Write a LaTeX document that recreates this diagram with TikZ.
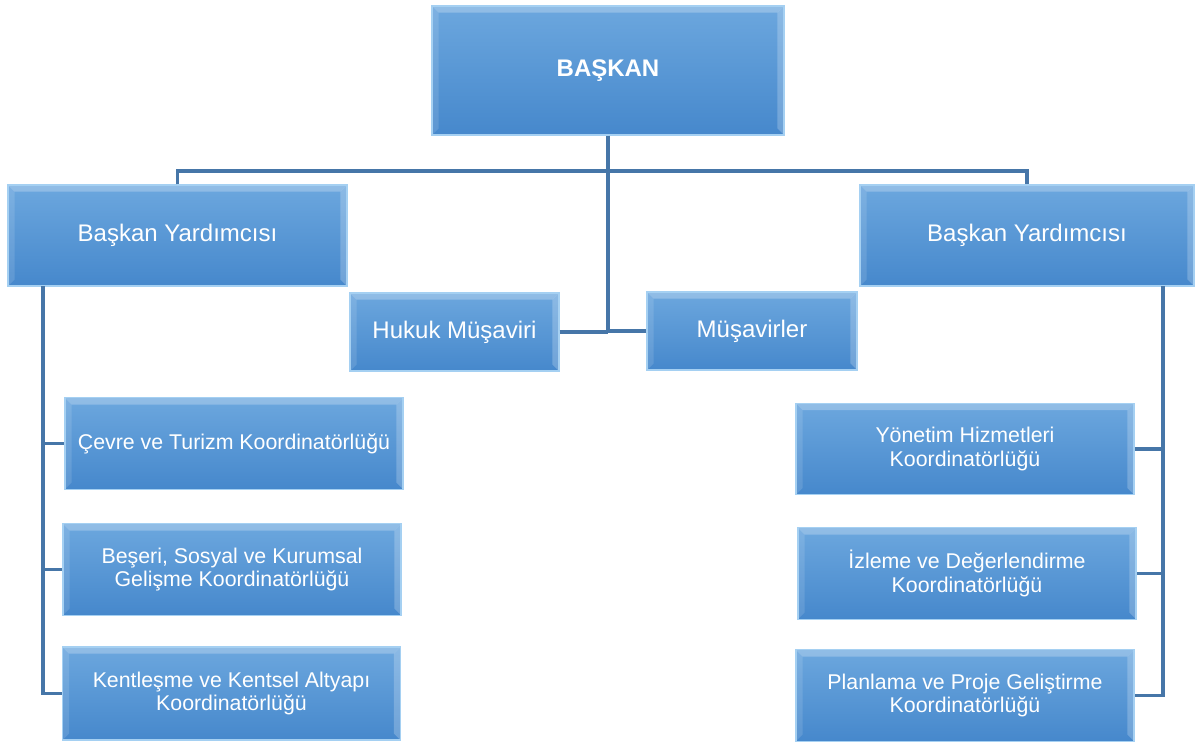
\documentclass[tikz,border=0pt]{standalone}
\usepackage{fontspec}
\setmainfont{Liberation Sans}
\usepackage{xcolor}
\usetikzlibrary{positioning,calc}

\definecolor{ustmavi}{RGB}{108,167,222}
\definecolor{altmavi}{RGB}{70,136,204}
\definecolor{kenarmavi}{RGB}{165,208,242}
\definecolor{hatmavi}{RGB}{70,118,168}

\tikzset{
    kutu/.style={rectangle, draw=kenarmavi, line width=0.8pt, top color=ustmavi, bottom color=altmavi,
        text=white, align=center, inner sep=2pt,
        path picture={
            \fill[white, opacity=0.25] (path picture bounding box.north west) -- (path picture bounding box.north east)
                -- ([shift={(-5pt,-5pt)}]path picture bounding box.north east) -- ([shift={(5pt,-5pt)}]path picture bounding box.north west) -- cycle;
            \fill[white, opacity=0.12] (path picture bounding box.north west) -- (path picture bounding box.south west)
                -- ([shift={(5pt,5pt)}]path picture bounding box.south west) -- ([shift={(5pt,-5pt)}]path picture bounding box.north west) -- cycle;
            \fill[white, opacity=0.22] (path picture bounding box.north east) -- (path picture bounding box.south east)
                -- ([shift={(-5pt,5pt)}]path picture bounding box.south east) -- ([shift={(-5pt,-5pt)}]path picture bounding box.north east) -- cycle;
        }},
    ust/.style={kutu, font=\fontsize{18}{21}\selectfont},
    koord/.style={kutu, font=\fontsize{16}{17.5}\selectfont, minimum width=253.5pt, minimum height=68.5pt},
    hat/.style={draw=hatmavi, line width=2.4pt}
}

\begin{document}
\begin{tikzpicture}[x=0.75pt, y=-0.75pt]
    \useasboundingbox (0,0) rectangle (1196,743);

    % ust seviye
    \node[ust, minimum width=264pt, minimum height=96.75pt] (baskan) at (608,70.5) {\textbf{BAŞKAN}};
    \node[ust, minimum width=254.25pt, minimum height=75.75pt] (yrdSol) at (177.5,235.5) {Başkan Yardımcısı};
    \node[ust, minimum width=250.5pt, minimum height=75.75pt] (yrdSag) at (1027,235.5) {Başkan Yardımcısı};
    \node[ust, minimum width=156.75pt, minimum height=58.5pt] (hukuk) at (454.5,332) {Hukuk Müşaviri};
    \node[ust, minimum width=157.5pt, minimum height=58.5pt] (musavir) at (752,331) {Müşavirler};

    % koordinatorlukler
    \node[koord] (cevre) at (234,443.5) {Çevre ve Turizm Koordinatörlüğü};
    \node[koord] (beseri) at (232,569.5) {Beşeri, Sosyal ve Kurumsal\\Gelişme Koordinatörlüğü};
    \node[koord, minimum height=69.75pt] (kent) at (231.5,693.5) {Kentleşme ve Kentsel Altyapı\\Koordinatörlüğü};
    \node[koord] (yonetim) at (965,449) {Yönetim Hizmetleri\\Koordinatörlüğü};
    \node[koord] (izleme) at (967,573.5) {İzleme ve Değerlendirme\\Koordinatörlüğü};
    \node[koord] (planlama) at (965,695.5) {Planlama ve Proje Geliştirme\\Koordinatörlüğü};

    % baglantilar
    \coordinate (govde) at (608,171);
    \coordinate (solHat) at (43,286);
    \coordinate (sagHat) at (1163,286);

    \draw[hat] (yrdSol.north) |- (govde) -| (yrdSag.north);
    \draw[hat] (baskan.south) -- (baskan.south |- hukuk.east);
    \draw[hat] (hukuk.east) -- (baskan.south |- hukuk.east);
    \draw[hat] (musavir.west) -- (baskan.south |- musavir.west);

    \draw[hat] (solHat) |- (kent.west);
    \draw[hat] (solHat |- cevre.west) -- (cevre.west);
    \draw[hat] (solHat |- beseri.west) -- (beseri.west);

    \draw[hat] (sagHat) |- (planlama.east);
    \draw[hat] (sagHat |- yonetim.east) -- (yonetim.east);
    \draw[hat] (sagHat |- izleme.east) -- (izleme.east);
\end{tikzpicture}
\end{document}
